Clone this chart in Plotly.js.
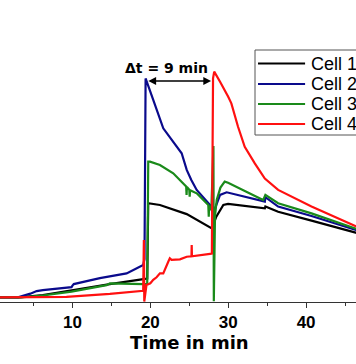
<!DOCTYPE html>
<html>
<head>
<meta charset="utf-8">
<script src="https://cdn.plot.ly/plotly-3.0.1.min.js"></script>
<style>
html,body{margin:0;padding:0;width:356px;height:364px;overflow:hidden;background:#fff;}
#chart{position:absolute;left:-40px;top:0;width:444px;height:364px;}
</style>
</head>
<body>
<div id="chart"></div>
<script>
// ---- data (time in min, signal in arbitrary units) ----
const seriesNames = ["Cell 1", "Cell 2", "Cell 3", "Cell 4"];
const seriesColors = ["#000000", "#0a0a8c", "#1a8a1a", "#ff1010"];

const cell1Time = [0, 3.2, 6.2, 9.9, 14.8, 19.1, 19.6, 19.73, 21.23, 24.67, 27.83, 27.9, 28.47, 29.37, 29.98, 34.7, 34.77, 36.41, 40.69, 46.6];
const cell1Val  = [1.8, 1.8, 2.7, 4.6, 6.9, 8.8, 9.0, 38.0, 37.3, 33.8, 28.6, 28.3, 32.8, 37.3, 37.7, 36.0, 36.7, 34.7, 31.3, 26.5];

const cell2Time = [0, 3.0, 4.6, 5.4, 6.2, 9.88, 10.0, 10.17, 13.52, 16.95, 19.08, 19.25, 19.39, 19.95, 20.37, 21.66, 23.38, 24.02, 24.67, 25.26, 25.95, 27.66, 27.83, 28.0, 28.95, 29.8, 34.7, 34.77, 36.41, 40.69, 46.6];
const cell2Val  = [1.8, 1.8, 3.2, 4.2, 4.6, 5.7, 6.3, 6.9, 9.2, 11.0, 14.2, 16.5, 86.0, 81.5, 77.7, 66.8, 59.7, 57.2, 50.8, 46.9, 43.1, 37.3, 36.7, 33.5, 41.2, 42.2, 38.6, 40.3, 36.7, 33.1, 27.5];

const cell3Time = [0, 3.4, 6.2, 9.88, 14.38, 14.8, 19.08, 19.6, 19.73, 19.95, 21.23, 22.94, 24.6, 24.65, 24.7, 25.0, 25.05, 25.1, 25.95, 27.44, 27.5, 27.55, 27.83, 28.1, 28.15, 28.2, 28.3, 28.52, 29.0, 29.55, 29.98, 34.48, 34.77, 36.41, 40.69, 46.6];
const cell3Val  = [1.8, 1.8, 2.5, 4.0, 6.5, 7.2, 6.9, 7.0, 54.0, 54.0, 52.7, 49.5, 44.4, 41.2, 44.2, 43.2, 40.5, 43.0, 41.8, 37.3, 32.8, 37.0, 35.4, 60.0, 0.3, 20.0, 33.0, 39.2, 44.0, 46.3, 45.9, 39.2, 41.2, 38.0, 34.1, 28.0];

const cell4Time = [0, 3.2, 9.23, 14.8, 19.08, 19.17, 19.22, 19.5, 20.0, 20.37, 20.8, 21.23, 21.66, 22.3, 22.5, 22.73, 23.8, 24.67, 25.28, 25.31, 25.34, 27.66, 27.9, 28.05, 28.2, 28.95, 29.81, 29.98, 30.4, 31.26, 32.12, 33.41, 34.7, 36.41, 40.69, 46.6];
const cell4Val  = [1.8, 1.8, 2.0, 3.1, 4.3, 23.8, 0.2, 6.5, 7.2, 8.5, 9.5, 11.0, 11.0, 15.5, 16.8, 16.2, 16.4, 17.4, 17.6, 21.9, 17.6, 18.5, 18.6, 86.0, 88.6, 84.7, 80.3, 79.0, 76.4, 67.4, 59.7, 53.3, 47.5, 43.1, 36.7, 28.8];

const xTickVals = [0, 10, 20, 30, 40];
const xTickText = ["0", "10", "20", "30", "40"];
const xTitle = "Time in min";
const deltaLabel = "\u0394t = 9 min";
const arrowStart = 19.55;   // min
const arrowEnd = 27.8;      // min
const arrowLevel = 85.0;
const labelTime = 22.1;
const labelLevel = 90.0;

const times = [cell1Time, cell2Time, cell3Time, cell4Time];
const vals = [cell1Val, cell2Val, cell3Val, cell4Val];

const traces = seriesNames.map((n, i) => ({
  type: "scatter", mode: "lines", name: n,
  x: times[i], y: vals[i],
  line: {color: seriesColors[i], width: 2.2},
  showlegend: false, hoverinfo: "skip"
}));

// geometry helpers (plot area in window pixels)
const ml = 19.4, mr = 20.2, mt = 42, mb = 62;
const plotW = 444 - ml - mr, plotH = 364 - mt - mb;
const plotLeftWin = -40 + ml;
const pX = wx => (wx - plotLeftWin) / plotW;
const pY = wy => (mt + plotH - wy) / plotH;

// manual legend
const legRows = [63.5, 84, 104, 124];
const shapes = [{
  type: "rect", xref: "paper", yref: "paper",
  x0: pX(255), x1: 1.0, y0: pY(135), y1: pY(50),
  line: {color: "#555555", width: 1}, fillcolor: "rgba(255,255,255,1)", layer: "above"
}];
const annotations = [];
seriesNames.forEach((n, i) => {
  shapes.push({type: "line", xref: "paper", yref: "paper",
    x0: pX(258), x1: pX(305), y0: pY(legRows[i]), y1: pY(legRows[i]),
    line: {color: seriesColors[i], width: 2}, layer: "above"});
  annotations.push({xref: "paper", yref: "paper", x: pX(309), y: pY(legRows[i]),
    xanchor: "left", yanchor: "middle", showarrow: false, text: n,
    font: {family: "Liberation Sans, Arial", size: 18, color: "#000"}});
});

annotations.push({
  xref: "x", yref: "y", x: arrowEnd, y: arrowLevel, ax: arrowStart, ay: arrowLevel,
  axref: "x", ayref: "y", text: "", showarrow: true, arrowhead: 2, arrowside: "end+start",
  arrowsize: 1.2, arrowwidth: 1.3, arrowcolor: "#000", standoff: 0, startstandoff: 0
});
annotations.push({
  xref: "x", yref: "y", x: labelTime, y: labelLevel,
  text: "<b>" + deltaLabel + "</b>", showarrow: false,
  font: {family: "DejaVu Sans", size: 14, color: "#000"}
});
// x-axis title (placed under the visible part of the axis)
annotations.push({
  xref: "paper", yref: "paper", x: pX(190), y: pY(343), xanchor: "center", yanchor: "middle",
  text: "<b>" + xTitle + "</b>", showarrow: false,
  font: {family: "DejaVu Sans", size: 18, color: "#000"}
});

const layout = {
  width: 444, height: 364,
  margin: {l: ml, r: mr, t: mt, b: mb, pad: 0},
  paper_bgcolor: "#fff", plot_bgcolor: "#fff",
  showlegend: false,
  font: {family: "Liberation Sans, Arial", color: "#000"},
  xaxis: {
    range: [-2, 50], tickvals: xTickVals, ticktext: xTickText,
    ticks: "outside", ticklen: 5, tickwidth: 1, tickcolor: "#333",
    minor: {tickvals: [5, 15, 25, 35, 45], ticks: "outside", ticklen: 3, tickcolor: "#333"},
    showline: true, linecolor: "#333", linewidth: 1, showgrid: false, zeroline: false,
    tickfont: {family: "Liberation Sans, Arial", size: 17, weight: "bold", color: "#000"}
  },
  xaxis2: {
    overlaying: "x", side: "top", anchor: "y", range: [-2, 50], tickvals: [0, 10, 20, 30, 40, 50],
    ticks: "inside", ticklen: 5, tickwidth: 1, tickcolor: "#333",
    minor: {tickvals: [5, 15, 25, 35, 45], ticks: "inside", ticklen: 3, tickcolor: "#333"},
    showline: true, linecolor: "#333", linewidth: 1, showgrid: false, zeroline: false,
    showticklabels: false
  },
  yaxis: {range: [0, 100], showgrid: false, zeroline: false, showticklabels: false, showline: false, ticks: ""},
  shapes: shapes, annotations: annotations
};

Plotly.newPlot("chart", traces, layout, {staticPlot: true, displayModeBar: false});
</script>
</body>
</html>
